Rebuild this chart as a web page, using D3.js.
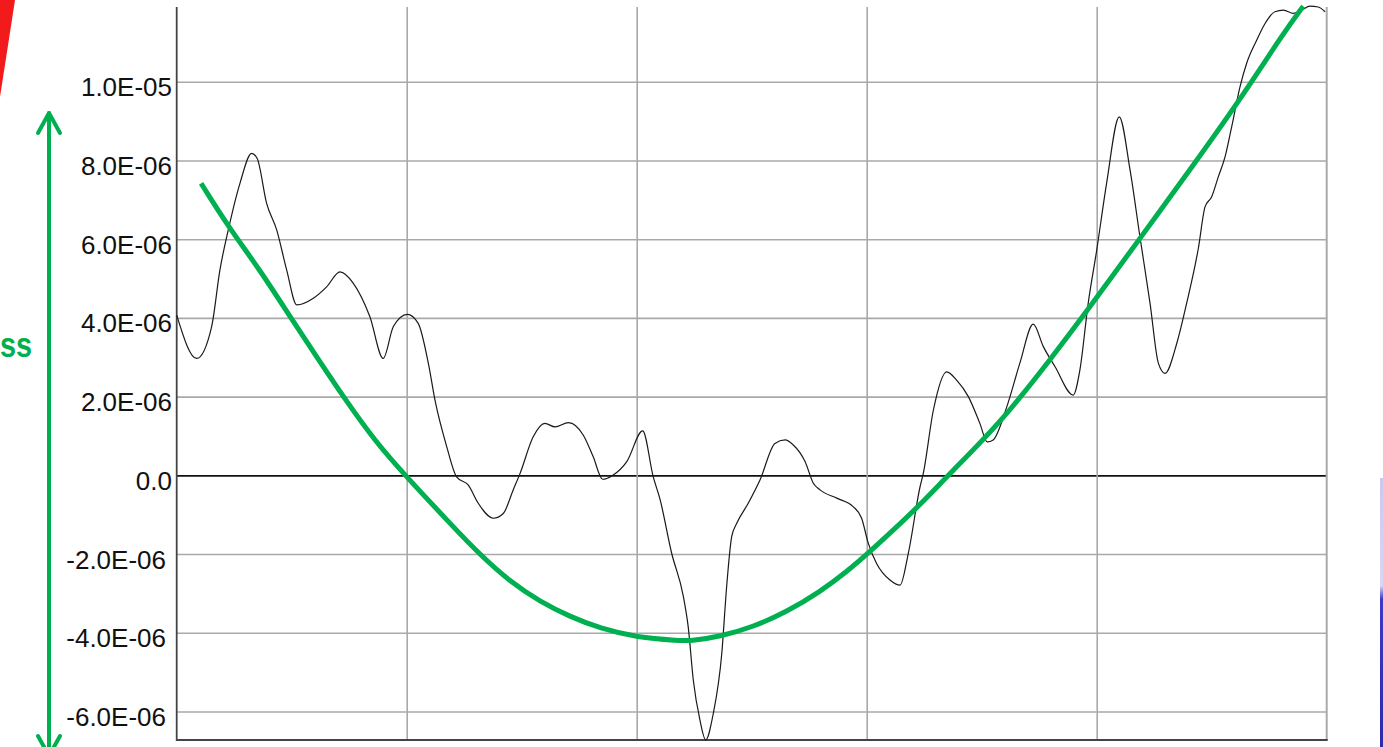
<!DOCTYPE html>
<html>
<head>
<meta charset="utf-8">
<script src="https://cdn.jsdelivr.net/npm/d3@7"></script>
<style>
  html, body { margin: 0; padding: 0; background: #fff; overflow: hidden; }
  svg { display: block; }
</style>
</head>
<body>
<svg id="chart" width="1383" height="747"></svg>
<script>
// Residual values are stored in micro-units (×1e-6)
const UNIT = 1e-6;

const xTicks = [0, 1, 2, 3, 4, 5];
const yTicks = [-6e-6, -4e-6, -2e-6, 0, 2e-6, 4e-6, 6e-6, 8e-6, 1e-5];
const yTickLabels = ["-6.0E-06", "-4.0E-06", "-2.0E-06", "0.0", "2.0E-06", "4.0E-06", "6.0E-06", "8.0E-06", "1.0E-05"];

// Measured residual trace
const residualX = [
  0.000, 0.087, 0.152, 0.188, 0.224, 0.275, 0.326, 0.350, 0.391, 0.435,
  0.478, 0.522, 0.594, 0.652, 0.710, 0.768, 0.840, 0.898, 0.942, 1.003,
  1.050, 1.094, 1.123, 1.174, 1.217, 1.268, 1.311, 1.377, 1.420, 1.463,
  1.493, 1.550, 1.601, 1.645, 1.703, 1.768, 1.811, 1.852, 1.898, 1.957,
  2.026, 2.072, 2.101, 2.152, 2.203, 2.224, 2.246, 2.275, 2.300, 2.333,
  2.370, 2.391, 2.413, 2.435, 2.485, 2.536, 2.601, 2.645, 2.681, 2.732,
  2.768, 2.797, 2.870, 2.942, 2.978, 3.007, 3.043, 3.101, 3.145, 3.181,
  3.232, 3.246, 3.290, 3.348, 3.391, 3.442, 3.492, 3.524, 3.550, 3.609,
  3.666, 3.724, 3.768, 3.819, 3.898, 3.927, 3.963, 4.000, 4.043, 4.098,
  4.145, 4.188, 4.232, 4.268, 4.297, 4.348, 4.391, 4.442, 4.471, 4.500,
  4.529, 4.558, 4.587, 4.623, 4.652, 4.696, 4.732, 4.775, 4.812, 4.855,
  4.891, 4.927, 4.963, 4.993
];
const residualMicro = [
  4.07, 2.97, 3.78, 5.22, 6.23, 7.42, 8.18, 8.05, 6.91, 6.23,
  5.22, 4.33, 4.50, 4.79, 5.17, 4.88, 4.03, 2.97, 3.78, 4.09,
  3.86, 2.85, 1.91, 0.73, -0.04, -0.25, -0.71, -1.09, -0.97, -0.37,
  0.05, 0.98, 1.32, 1.23, 1.34, 1.02, 0.47, -0.10, 0.01, 0.35,
  1.13, -0.04, -0.60, -1.98, -3.08, -3.85, -5.20, -6.22, -6.72, -6.05,
  -4.52, -2.83, -1.56, -1.22, -0.71, -0.12, 0.81, 0.90, 0.77, 0.35,
  -0.20, -0.37, -0.58, -0.80, -1.09, -1.73, -2.24, -2.66, -2.79, -1.98,
  -0.29, 0.05, 1.66, 2.63, 2.42, 2.00, 1.32, 0.85, 0.90, 1.74,
  2.85, 3.84, 3.27, 2.76, 2.04, 2.68, 4.37, 5.72, 7.42, 9.11,
  7.76, 6.06, 4.37, 2.85, 2.59, 3.35, 4.37, 5.77, 6.82, 7.08,
  7.59, 8.09, 8.86, 9.87, 10.47, 11.06, 11.48, 11.78, 11.82, 11.74,
  11.82, 11.92, 11.90, 11.78
];

// Smooth trend line
const trendX = [
  0.106, 0.224, 0.362, 0.493, 0.609, 0.724, 0.870, 1.000, 1.188, 1.319,
  1.449, 1.580, 1.710, 1.841, 2.000, 2.188, 2.231, 2.362, 2.507, 2.652,
  2.797, 2.913, 3.014, 3.116, 3.232, 3.362, 3.579, 3.797, 3.971, 4.188,
  4.420, 4.623, 4.811, 4.898
];
const trendMicro = [
  7.42, 6.32, 5.22, 4.03, 3.01, 2.00, 0.81, -0.04, -1.22, -2.02,
  -2.70, -3.21, -3.59, -3.89, -4.12, -4.20, -4.21, -4.10, -3.85, -3.47,
  -2.96, -2.45, -1.94, -1.39, -0.75, 0.05, 1.32, 2.93, 4.28, 6.02,
  7.88, 9.54, 11.23, 11.92
];

const svg = d3.select("#chart");
const GREEN = "#00b050";

const x = d3.scaleLinear().domain([0, 5]).range([176.7, 1326.7]);
const y = d3.scaleLinear().domain([-6.725e-6, 11.9e-6]).range([740, 7]);

const plotLeft = x.range()[0], plotRight = x.range()[1];
const plotTop = y.range()[1], plotBottom = y.range()[0];

// Decorations around the plot
svg.append("polygon")
  .attr("points", "0,0 15,0 0,97")
  .attr("fill", "#f21a1a");

const blueGrad = svg.append("defs").append("linearGradient")
  .attr("id", "edgeBlue").attr("x1", 0).attr("x2", 0).attr("y1", 0).attr("y2", 1);
blueGrad.append("stop").attr("offset", "0%").attr("stop-color", "#c9c8ee");
blueGrad.append("stop").attr("offset", "40%").attr("stop-color", "#d8d8f4");
blueGrad.append("stop").attr("offset", "45%").attr("stop-color", "#4038c8");
blueGrad.append("stop").attr("offset", "100%").attr("stop-color", "#2f2aa8");
svg.append("rect")
  .attr("x", 1380).attr("y", 478).attr("width", 3).attr("height", 269)
  .attr("fill", "url(#edgeBlue)");

// Horizontal gridlines
const yGrid = svg.append("g")
  .attr("transform", `translate(${plotLeft},0)`)
  .call(d3.axisLeft(y).tickValues(yTicks).tickSize(-(plotRight - plotLeft)).tickFormat(""));
yGrid.select(".domain").remove();
yGrid.selectAll(".tick line")
  .attr("stroke", d => d === 0 ? "#111" : "#a9a9a9")
  .attr("stroke-width", 1.6);

// Vertical gridlines
const xGrid = svg.append("g")
  .attr("transform", `translate(0,${plotBottom})`)
  .call(d3.axisBottom(x).tickValues(xTicks.slice(1, -1)).tickSize(-(plotBottom - plotTop)).tickFormat(""));
xGrid.select(".domain").remove();
xGrid.selectAll(".tick line").attr("stroke", "#a9a9a9").attr("stroke-width", 1.6);

// Frame: dark left axis and bottom, light right edge
svg.append("line")
  .attr("x1", plotRight).attr("x2", plotRight).attr("y1", plotTop).attr("y2", plotBottom)
  .attr("stroke", "#aaaaaa").attr("stroke-width", 2);
svg.append("line")
  .attr("x1", plotLeft).attr("x2", plotRight + 1).attr("y1", plotBottom).attr("y2", plotBottom)
  .attr("stroke", "#444").attr("stroke-width", 2.2);
svg.append("line")
  .attr("x1", plotLeft).attr("x2", plotLeft).attr("y1", plotTop).attr("y2", plotBottom + 1)
  .attr("stroke", "#444").attr("stroke-width", 1.8);

// Y tick labels
svg.append("g")
  .selectAll("text")
  .data(yTicks)
  .join("text")
  .attr("x", d => d < 0 ? 166 : 172)
  .attr("y", d => y(d))
  .attr("dy", 14.5)
  .attr("text-anchor", "end")
  .attr("font-family", "'Liberation Sans', Arial, sans-serif")
  .attr("font-size", 26)
  .attr("fill", "#111")
  .text((d, i) => yTickLabels[i]);

// Residual trace
const residual = residualX.map((v, i) => [v, residualMicro[i] * UNIT]);
svg.append("path")
  .datum(residual)
  .attr("fill", "none")
  .attr("stroke", "#1a1a1a")
  .attr("stroke-width", 1.2)
  .attr("d", d3.line().x(d => x(d[0])).y(d => y(d[1])).curve(d3.curveMonotoneX));

// Trend line (B-spline smooths the sampled points)
const trend = trendX.map((v, i) => [v, trendMicro[i] * UNIT]);
svg.append("path")
  .datum(trend)
  .attr("fill", "none")
  .attr("stroke", GREEN)
  .attr("stroke-width", 5)
  .attr("d", d3.line().x(d => x(d[0])).y(d => y(d[1])).curve(d3.curveBasis));

// Double-headed range arrow on the left
const arrow = svg.append("g")
  .attr("stroke", GREEN).attr("stroke-width", 4)
  .attr("stroke-linecap", "round").attr("stroke-linejoin", "round")
  .attr("fill", "none");
arrow.append("line").attr("x1", 49).attr("x2", 49).attr("y1", 113).attr("y2", 756);
arrow.append("polyline").attr("points", "38,133 49,113 60,133");
arrow.append("polyline").attr("points", "38,736 49,756 60,736");

svg.append("text")
  .attr("x", 0).attr("y", 357)
  .attr("text-anchor", "start")
  .attr("font-family", "'Liberation Sans', Arial, sans-serif")
  .attr("font-weight", "bold")
  .attr("font-size", 35)
  .attr("textLength", 32)
  .attr("lengthAdjust", "spacingAndGlyphs")
  .attr("fill", GREEN)
  .text("ss");
</script>
</body>
</html>
